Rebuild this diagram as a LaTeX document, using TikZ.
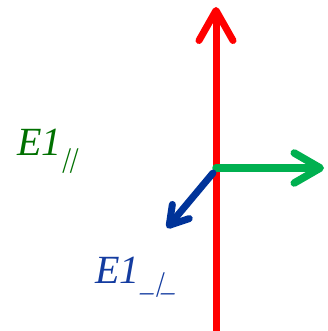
\documentclass[tikz,border=0pt]{standalone}
\usepackage{fontspec}
\setmainfont{Liberation Serif}
\usetikzlibrary{arrows.meta}
\definecolor{redA}{RGB}{255,0,0}
\definecolor{greenA}{RGB}{0,176,80}
\definecolor{blueA}{RGB}{0,51,153}
\definecolor{greenT}{RGB}{0,112,0}
\definecolor{blueT}{RGB}{20,60,160}
\tikzset{
  vec/.style={line width=7pt, line cap=round},
  lbl/.style={inner sep=0pt, font=\fontsize{40}{40}\selectfont\itshape},
  sub/.style={inner sep=0pt, font=\fontsize{27}{27}\selectfont\itshape, xslant=0.3, transform shape},
}
\begin{document}
\begin{tikzpicture}[x=1pt,y=-1pt]
\useasboundingbox (0,0) rectangle (328,331);
\coordinate (o) at (216,168);
\coordinate (rb) at (216,335);
\coordinate (rt) at (216,7);
\coordinate (gt) at (324,168);
\coordinate (ob) at (213,173);
\coordinate (bt) at (167,228);
\draw[vec, redA, -{Straight Barb[round, length=30pt, width=34pt]}] (rb) -- (rt);
\draw[vec, greenA, line width=7.5pt, -{Straight Barb[round, length=26pt, width=30pt]}] (o) -- (gt);
\draw[vec, blueA, line width=7pt, -{Straight Barb[round, length=18pt, width=22pt]}] (ob) -- (bt);
\node[lbl, text=greenT, anchor=base west] (l1) at (17,155) {E1};
\node[sub, text=greenT] (s1) at (70,161) {||};
\node[lbl, text=blueT, anchor=base west] (l2) at (95,283) {E1};
\node[sub, text=blueT] (s2) at (160,285) {\_|\_};
\end{tikzpicture}
\end{document}
